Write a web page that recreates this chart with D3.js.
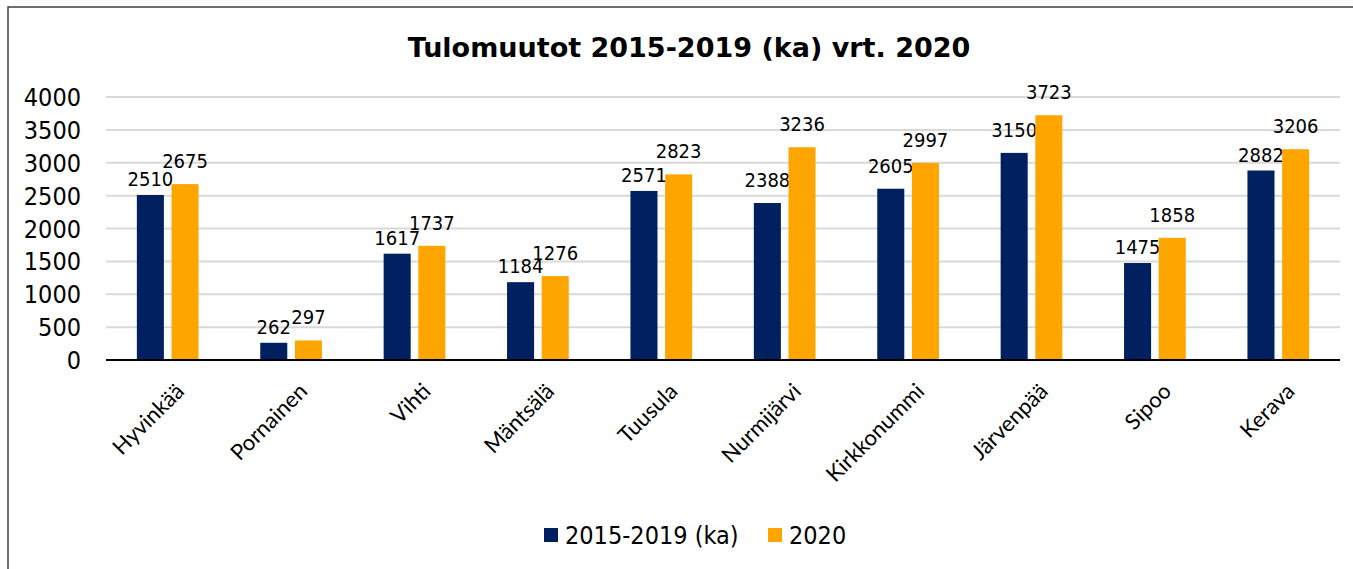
<!DOCTYPE html>
<html>
<head>
<meta charset="utf-8">
<script src="https://cdn.jsdelivr.net/npm/d3@7"></script>
<style>
    body { margin: 0; background: #fff; }
    svg { display: block; }
</style>
</head>
<body>
<svg></svg>
<script>
// data
const kunnat = ["Hyvinkää", "Pornainen", "Vihti", "Mäntsälä", "Tuusula",
    "Nurmijärvi", "Kirkkonummi", "Järvenpää", "Sipoo", "Kerava"];
const keskiarvo = [2510, 262, 1617, 1184, 2571, 2388, 2605, 3150, 1475, 2882];
const vuosi2020 = [2675, 297, 1737, 1276, 2823, 3236, 2997, 3723, 1858, 3206];
const sarjat = ["2015-2019 (ka)", "2020"];
const yTicks = [0, 500, 1000, 1500, 2000, 2500, 3000, 3500, 4000];

const titleText = "Tulomuutot 2015-2019 (ka) vrt. 2020";
const colors = ["#002060", "#FFA500"];
const mainFont = "'DejaVu Sans Condensed', 'DejaVu Sans', sans-serif";

class Chart {
    constructor(width = 1353, height = 569) {
        this.width = width;
        this.height = height;
        this.svg = d3.select("svg").attr("width", width).attr("height", height);
        this.values = [keskiarvo, vuosi2020];

        this.setScales();
        this.drawFrame();
        this.drawGrid();
        this.drawBars();
        this.drawAxes();
        this.drawLegend();
    }

    setScales() {
        this.x = d3.scaleBand()
            .domain(kunnat)
            .range([106, 1340])
            .paddingInner(0.5)
            .paddingOuter(0.25);
        this.xs = d3.scaleBand()
            .domain(sarjat)
            .range([0, this.x.bandwidth()])
            .paddingInner(0.22);
        this.y = d3.scaleLinear().domain([0, 4000]).range([360, 97]);
    }

    drawFrame() {
        // reunus (oikea ja alareuna jäävät kuvan ulkopuolelle)
        this.svg.append("rect")
            .attr("x", 8).attr("y", 7)
            .attr("width", 1400).attr("height", 600)
            .style("fill", "none")
            .style("stroke", "#404040")
            .style("stroke-width", 1.5);

        this.svg.append("text")
            .attr("x", 689).attr("y", 57)
            .attr("text-anchor", "middle")
            .style("font-family", "'DejaVu Sans', sans-serif")
            .style("font-weight", "bold")
            .style("font-size", "27px")
            .style("fill", "#000")
            .text(titleText);
    }

    drawGrid() {
        this.svg.append("g")
            .selectAll("line")
            .data(yTicks.filter(d => d > 0))
            .join("line")
            .attr("x1", 106).attr("x2", 1340)
            .attr("y1", d => this.y(d)).attr("y2", d => this.y(d))
            .style("stroke", "#d9d9d9")
            .style("stroke-width", 2);
    }

    // tumman pylvään arvo lasketaan alemmas jos pylväät ovat lähes yhtä korkeita
    labelY(d) {
        const top = this.y(d.value);
        if (d.j === 0 && top - this.y(d.other) < 25.5) return top - 9;
        return top - 16;
    }

    drawBars() {
        const groups = this.svg.append("g")
            .selectAll("g")
            .data(kunnat)
            .join("g")
            .attr("transform", d => `translate(${this.x(d)},0)`);

        const bars = groups.selectAll("g")
            .data((d, i) => sarjat.map((s, j) => ({
                sarja: s, j: j,
                value: this.values[j][i],
                other: this.values[1 - j][i]
            })))
            .join("g");

        bars.append("rect")
            .attr("x", d => this.xs(d.sarja))
            .attr("y", d => this.y(d.value))
            .attr("width", this.xs.bandwidth())
            .attr("height", d => this.y(0) - this.y(d.value))
            .style("fill", d => colors[d.j]);

        // arvot pylväiden päälle
        bars.append("text")
            .attr("x", d => this.xs(d.sarja) + this.xs.bandwidth() / 2)
            .attr("y", d => this.labelY(d))
            .attr("text-anchor", "middle")
            .style("font-family", mainFont)
            .style("font-size", "20px")
            .style("fill", "#000")
            .text(d => d.value);
    }

    drawAxes() {
        // y-akseli
        this.svg.append("g")
            .selectAll("text")
            .data(yTicks)
            .join("text")
            .attr("x", 81)
            .attr("y", d => this.y(d) + 9)
            .attr("text-anchor", "end")
            .style("font-family", mainFont)
            .style("font-size", "25px")
            .style("fill", "#000")
            .text(d => d);

        // x-akselin viiva
        this.svg.append("line")
            .attr("x1", 106).attr("x2", 1340)
            .attr("y1", this.y(0)).attr("y2", this.y(0))
            .style("stroke", "#000")
            .style("stroke-width", 2);

        // kuntien nimet vinossa
        this.svg.append("g")
            .selectAll("text")
            .data(kunnat)
            .join("text")
            .attr("transform", d => `translate(${this.x(d) + this.x.bandwidth() / 2 + 6},381) rotate(-45)`)
            .attr("dy", "0.75em")
            .attr("text-anchor", "end")
            .style("font-family", "Lato, 'Open Sans', sans-serif")
            .style("font-size", "22px")
            .style("fill", "#000")
            .text(d => d);
    }

    drawLegend() {
        const legend = this.svg.append("g");
        const pos = [544, 768];

        sarjat.forEach((s, i) => {
            legend.append("rect")
                .attr("x", pos[i]).attr("y", 528)
                .attr("width", 14).attr("height", 14)
                .style("fill", colors[i]);
            legend.append("text")
                .attr("x", pos[i] + 21).attr("y", 544)
                .style("font-family", mainFont)
                .style("font-size", "25px")
                .style("fill", "#000")
                .text(s);
        });
    }
}

let chart = new Chart(1353, 569);
</script>
</body>
</html>
